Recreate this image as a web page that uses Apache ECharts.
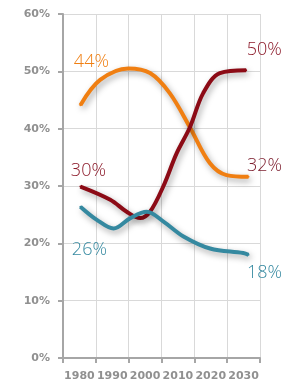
<!doctype html>
<html>
	<head>
		<meta charset="utf-8">
		<script src="https://cdn.jsdelivr.net/npm/echarts@6/dist/echarts.min.js"></script>
		<style>
			html, body { margin: 0; padding: 0; background: #fff; }
			#chart { width: 294px; height: 386px; }
		</style>
	</head>
	<body>
		<div id="chart"></div>
		<script>

		var categories = ['1980', '1990', '2000', '2010', '2020', '2030']
		var yTicks = [0, 10, 20, 30, 40, 50, 60]

		// curves, [year, percent]
		var orange = [[1980.3, 44.1], [1986.3, 48.5], [1994.9, 50.5], [2001.5, 49.7], [2007.5, 46.2],
			[2013.6, 40.3], [2019.7, 34.0], [2024.8, 31.9], [2031.5, 31.6]]
		var darkred = [[1980.3, 29.9], [1989.4, 27.6], [1994.4, 25.5], [1998.5, 24.4], [2001.5, 25.5],
			[2005.6, 30.0], [2009.6, 35.7], [2013.7, 40.3], [2017.7, 46.2], [2022.8, 49.7], [2030.8, 50.2]]
		var teal = [[1980.3, 26.4], [1985.3, 24.1], [1990.4, 22.6], [1995.5, 24.4], [2000.5, 25.5],
			[2005.6, 23.8], [2011.7, 21.2], [2019.8, 19.1], [2029.9, 18.3], [2031.5, 18.0]]

		var startLabels = ['44%', '30%', '26%']
		var endLabels = ['32%', '50%', '18%']

		var colors = ['#f07f12', '#8c0b16', '#3589a0']
		var startColors = ['#f07f12', '#8c1a2a', '#3589a0']
		var endColors = ['#7e2030', '#8c1a2a', '#3589a0']
		// label centre relative to the end point, px
		var startShift = [[11, -43], [8, -16], [9, 43]]
		var endShift = [[16, -11], [18, -20], [16, 18]]

		function build(data, i) {
			return data.map(function (p, k) {
				var item = { value: p }
				if (k === 0 || k === data.length - 1) {
					var first = k === 0
					var s = first ? startShift[i] : endShift[i]
					item.label = {
						show: true,
						position: [s[0] + 1, s[1] + 1],
						align: 'center',
						verticalAlign: 'middle',
						formatter: first ? startLabels[i] : endLabels[i],
						color: first ? startColors[i] : endColors[i],
						fontFamily: 'Open Sans',
						fontWeight: 'lighter',
						fontSize: 18
					}
				}
				return item
			})
		}

		var series = [orange, darkred, teal].map(function (d, i) {
			return {
				type: 'line',
				xAxisIndex: 1,
				data: build(d, i),
				smooth: 0.35,
				symbol: 'circle',
				symbolSize: 2,
				showSymbol: true,
				showAllSymbol: true,
				itemStyle: { color: colors[i] },
				labelLayout: { hideOverlap: false },
				z: 3 + i,
				lineStyle: {
					color: colors[i],
					width: 4,
					shadowColor: 'rgba(0,0,0,0.35)',
					shadowBlur: 6,
					shadowOffsetX: 2,
					shadowOffsetY: 3
				}
			}
		})

		var chart = echarts.init(document.getElementById('chart'))

		chart.setOption({
			animation: false,
			grid: { left: 63, right: 34, top: 14, bottom: 28, containLabel: false },
			xAxis: [
				{
					type: 'category',
					data: categories,
					boundaryGap: true,
					axisLine: { lineStyle: { color: '#a6a6a6', width: 2 } },
					axisTick: { show: true, length: 5, lineStyle: { color: '#a6a6a6', width: 2 } },
					axisLabel: { color: '#909090', fontWeight: 'bold', fontSize: 11, margin: 13, interval: 0, fontFamily: 'DejaVu Sans' },
					splitLine: { show: true, lineStyle: { color: '#d9d9d9', width: 1 } }
				},
				{
					type: 'value',
					min: 1975,
					max: 2035,
					show: false
				}
			],
			yAxis: {
				type: 'value',
				min: yTicks[0],
				max: yTicks[yTicks.length - 1],
				interval: 10,
				axisLine: { show: true, lineStyle: { color: '#a6a6a6', width: 2 } },
				axisTick: { show: true, length: 5, lineStyle: { color: '#a6a6a6', width: 2 } },
				axisLabel: { formatter: '{value}%', color: '#909090', fontWeight: 'bold', fontSize: 11, margin: 13, fontFamily: 'DejaVu Sans' },
				splitLine: { show: true, lineStyle: { color: '#d9d9d9', width: 1 } }
			},
			series: series
		})

		</script>
	</body>
</html>
